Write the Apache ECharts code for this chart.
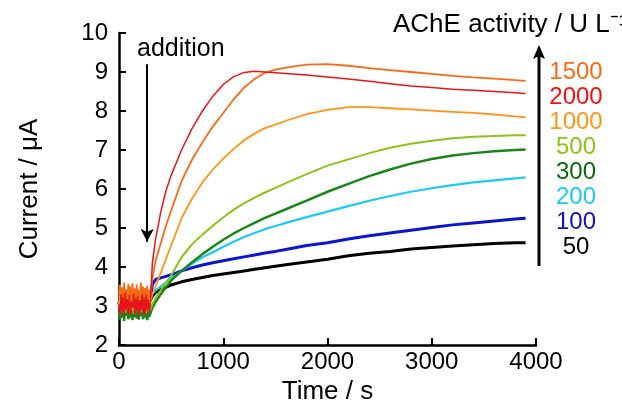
<!DOCTYPE html>
<html>
<head>
<meta charset="utf-8">
<script src="https://cdn.jsdelivr.net/npm/echarts@6/dist/echarts.min.js"></script>
<style>
  html, body { margin: 0; padding: 0; background: #fff; }
  #chart { width: 622px; height: 402px; }
</style>
</head>
<body>
<div id="chart"></div>
<script>
// Amperometric response (current vs time) after substrate addition at ~300 s
const preTimes = [0,10,20,30,40,50,60,70,80,90,100,110,120,130,140,150,160,170,180,190,200,210,220,230,240,250,260,270,280,290];
const postTimes = [300,320,350,400,450,500,600,700,800,900,1000,1100,1200,1300,1400,1500,1600,1800,2000,2200,2400,2600,2800,3000,3200,3400,3600,3800,3900];

// Baseline (before addition), µA
const pre50   = [3.05,3.2,2.95,3.15,3.0,3.25,2.92,3.12,3.02,3.22,2.96,3.18,3.0,3.14,2.94,3.2,3.04,3.16,2.98,3.24,3.02,3.1,2.96,3.18,3.06,3.12,2.94,3.2,3.0,3.1];
const pre100  = [3.1,2.95,3.25,3.0,3.2,2.92,3.22,3.04,3.15,2.96,3.24,3.0,3.18,2.94,3.2,3.02,3.12,2.98,3.26,3.0,3.16,2.95,3.22,3.04,3.14,2.97,3.2,3.0,3.18,3.05];
const pre200  = [3.0,3.18,2.92,3.22,3.02,3.15,2.9,3.2,3.0,3.24,2.95,3.12,3.05,3.2,2.92,3.16,3.0,3.22,2.96,3.1,3.04,3.18,2.94,3.2,3.02,3.14,2.96,3.22,3.0,3.12];
const pre300  = [2.85,2.65,3.05,2.7,2.95,2.62,3.1,2.75,2.9,2.66,3.0,2.7,2.92,2.64,3.08,2.72,2.88,2.68,3.02,2.65,2.95,2.74,3.05,2.66,2.9,2.7,3.0,2.64,2.86,2.72];
const pre500  = [2.95,3.2,2.85,3.15,2.9,3.25,2.82,3.1,2.95,3.22,2.86,3.18,2.9,3.12,2.8,3.2,2.92,3.15,2.85,3.24,2.9,3.1,2.84,3.18,2.96,3.12,2.82,3.2,2.9,3.05];
const pre1000 = [3.0,3.35,2.95,3.4,3.05,3.3,2.9,3.38,3.1,3.25,2.98,3.42,3.02,3.3,2.92,3.36,3.08,3.28,2.96,3.4,3.04,3.32,2.9,3.35,3.06,3.26,2.98,3.38,3.0,3.3];
const pre1500 = [3.3,3.55,3.05,3.48,3.15,3.6,3.1,3.42,3.2,3.56,3.02,3.5,3.25,3.58,3.08,3.45,3.18,3.55,3.12,3.4,3.22,3.6,3.05,3.5,3.15,3.46,3.1,3.52,3.2,3.42];
const pre2000 = [3.05,2.78,3.3,2.85,3.22,2.74,3.34,2.9,3.18,2.8,3.28,2.76,3.12,2.95,3.32,2.78,3.2,2.86,3.26,2.72,3.15,2.9,3.3,2.8,3.22,2.75,3.28,2.88,3.18,2.82];

// Response after addition, µA
const post50   = [3.1,3.25,3.35,3.42,3.48,3.54,3.62,3.68,3.73,3.78,3.82,3.86,3.9,3.94,3.98,4.02,4.06,4.13,4.2,4.29,4.35,4.4,4.46,4.5,4.54,4.57,4.6,4.62,4.62];
const post100  = [3.2,3.55,3.68,3.72,3.76,3.8,3.9,3.98,4.05,4.11,4.16,4.21,4.26,4.31,4.36,4.4,4.45,4.55,4.62,4.72,4.8,4.87,4.94,5.01,5.08,5.13,5.18,5.23,5.25];
const post200  = [3.1,3.3,3.4,3.5,3.6,3.7,3.9,4.08,4.25,4.38,4.52,4.65,4.77,4.87,4.97,5.05,5.13,5.28,5.42,5.56,5.7,5.82,5.93,6.02,6.1,6.17,6.22,6.27,6.3];
const post300  = [2.8,2.95,3.1,3.3,3.48,3.65,3.9,4.12,4.33,4.52,4.7,4.86,5.0,5.13,5.26,5.37,5.48,5.7,5.93,6.13,6.33,6.5,6.65,6.77,6.86,6.92,6.97,7.0,7.01];
const post500  = [2.9,3.05,3.2,3.4,3.6,3.78,4.25,4.58,4.83,5.06,5.27,5.47,5.63,5.78,5.91,6.03,6.15,6.38,6.6,6.76,6.92,7.06,7.16,7.24,7.3,7.34,7.36,7.38,7.38];
const post1000 = [3.1,3.3,3.5,3.85,4.2,4.55,5.25,5.75,6.17,6.5,6.78,7.03,7.25,7.42,7.56,7.65,7.75,7.92,8.03,8.1,8.1,8.07,8.04,8.01,7.98,7.95,7.91,7.86,7.84];
const post1500 = [3.2,3.7,4.15,4.6,5.05,5.45,6.2,6.75,7.2,7.6,7.95,8.3,8.6,8.82,8.98,9.06,9.11,9.19,9.2,9.16,9.1,9.05,9.0,8.95,8.9,8.86,8.83,8.79,8.77];
const post2000 = [3.05,4.1,4.7,5.4,5.95,6.35,7.0,7.55,8.0,8.38,8.68,8.88,8.99,9.02,9.0,8.98,8.96,8.92,8.87,8.82,8.76,8.7,8.64,8.6,8.56,8.53,8.5,8.47,8.45];

// AChE activities (U/L), in drawing order
const activities = ['50','100','200','300','500','1000','1500','2000'];
const legendOrder = ['1500','2000','1000','500','300','200','100','50'];
const xTicks = [0, 1000, 2000, 3000, 4000];
const yTicks = [2, 3, 4, 5, 6, 7, 8, 9, 10];
const additionTime = 270;

const traces = {
  '50':   { pre: pre50,   post: post50 },
  '100':  { pre: pre100,  post: post100 },
  '200':  { pre: pre200,  post: post200 },
  '300':  { pre: pre300,  post: post300 },
  '500':  { pre: pre500,  post: post500 },
  '1000': { pre: pre1000, post: post1000 },
  '1500': { pre: pre1500, post: post1500 },
  '2000': { pre: pre2000, post: post2000 }
};

const style = {
  '50':   { color: '#000000', width: 3,   text: '#000000' },
  '100':  { color: '#0a14d2', width: 3,   text: '#1010c0' },
  '200':  { color: '#1ec8f5', width: 2.2, text: '#1ec8f5' },
  '300':  { color: '#1a861a', width: 2.5, text: '#0e6a0e' },
  '500':  { color: '#8cc21a', width: 2,   text: '#8cc21a' },
  '1000': { color: '#ff951a', width: 1.8, text: '#ff951a' },
  '1500': { color: '#f96a18', width: 1.8, text: '#f96a18' },
  '2000': { color: '#e8141c', width: 1.5, text: '#f01010' }
};

const FONT = '"Liberation Sans", Arial, Helvetica, sans-serif';

function buildData(key) {
  const tr = traces[key];
  const a = preTimes.map((t, i) => [t, tr.pre[i]]);
  const b = postTimes.map((t, i) => [t, tr.post[i]]);
  return a.concat(b);
}

const series = activities.map((key) => ({
  name: key,
  type: 'line',
  data: buildData(key),
  showSymbol: false,
  symbol: 'none',
  animation: false,
  lineStyle: { color: style[key].color, width: style[key].width },
  z: 2
}));

// Arrow marking the moment of addition
series.push({
  type: 'line',
  data: [],
  silent: true,
  markLine: {
    silent: true,
    animation: false,
    symbol: ['none', 'arrow'],
    symbolSize: [10, 13],
    label: { show: false },
    lineStyle: { color: '#000', width: 2, type: 'solid' },
    data: [[{ coord: [additionTime, 9.2] }, { coord: [additionTime, 4.65] }]]
  }
});

// Legend: colour-coded activity values beside an upward arrow
const graphics = legendOrder.map((key, i) => ({
  type: 'text',
  x: 576,
  y: 72 + i * 25,
  style: {
    text: key,
    fill: style[key].text,
    font: '24px ' + FONT,
    align: 'center',
    verticalAlign: 'middle'
  }
}));
graphics.push(
  {
    type: 'line',
    shape: { x1: 539, y1: 266, x2: 539, y2: 56 },
    style: { stroke: '#000', lineWidth: 3 }
  },
  {
    type: 'polygon',
    shape: { points: [[539, 45], [545, 59], [539, 56], [533, 59]] },
    style: { fill: '#000' }
  },
  {
    type: 'text',
    x: 393,
    y: 25,
    style: {
      text: 'AChE activity / U L\u207B\u00B9',
      fill: '#000',
      font: '26px ' + FONT,
      align: 'left',
      verticalAlign: 'middle'
    }
  },
  {
    type: 'text',
    x: 137,
    y: 49,
    style: {
      text: 'addition',
      fill: '#000',
      font: '25px ' + FONT,
      align: 'left',
      verticalAlign: 'middle'
    }
  }
);

const chart = echarts.init(document.getElementById('chart'), null, { renderer: 'canvas' });
chart.setOption({
  animation: false,
  backgroundColor: '#fff',
  grid: { left: 119, right: 86, top: 33, bottom: 57, containLabel: false, outerBoundsMode: 'none' },
  xAxis: {
    type: 'value',
    min: xTicks[0],
    max: xTicks[xTicks.length - 1],
    interval: 1000,
    name: 'Time / s',
    nameLocation: 'middle',
    nameGap: 31,
    nameTextStyle: { fontFamily: FONT, fontSize: 26, color: '#000' },
    axisLine: { onZero: false, lineStyle: { color: '#000', width: 2.5 } },
    axisTick: { inside: true, length: 7, lineStyle: { color: '#000', width: 2 } },
    axisLabel: { margin: 5, fontFamily: FONT, fontSize: 24, color: '#000', formatter: (v) => String(v) },
    splitLine: { show: false }
  },
  yAxis: {
    type: 'value',
    min: yTicks[0],
    max: yTicks[yTicks.length - 1],
    interval: 1,
    name: 'Current / \u03BCA',
    nameLocation: 'middle',
    nameGap: 76,
    nameTextStyle: { fontFamily: FONT, fontSize: 26, color: '#000' },
    axisLine: { onZero: false, lineStyle: { color: '#000', width: 2.5 } },
    axisTick: { inside: true, length: 7, lineStyle: { color: '#000', width: 2 } },
    axisLabel: { margin: 11, fontFamily: FONT, fontSize: 24, color: '#000', padding: [3, 0, 0, 0], formatter: (v) => String(v) },
    splitLine: { show: false }
  },
  series: series,
  graphic: graphics
});
</script>
</body>
</html>
